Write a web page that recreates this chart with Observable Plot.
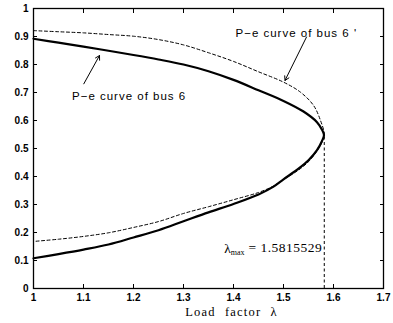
<!DOCTYPE html>
<html><head><meta charset="utf-8">
<script src="https://cdn.jsdelivr.net/npm/d3@7"></script>
<script src="https://cdn.jsdelivr.net/npm/@observablehq/plot@0.6"></script>
<style>body{margin:0;background:#fff}</style>
</head><body><div id="chart"></div>
<script>
const xTicks = [1, 1.1, 1.2, 1.3, 1.4, 1.5, 1.6, 1.7];
const yTicks = [0, 0.1, 0.2, 0.3, 0.4, 0.5, 0.6, 0.7, 0.8, 0.9, 1];

// P-e curve of bus 6 (solid): upper branch then lower branch
const solidX = [1.0, 1.05, 1.1, 1.15, 1.2, 1.25, 1.3, 1.35, 1.4, 1.45, 1.5, 1.54, 1.567, 1.577, 1.581,
                1.577, 1.567, 1.55, 1.53, 1.5, 1.48, 1.45, 1.4, 1.35, 1.3, 1.25, 1.2, 1.15, 1.1, 1.05, 1.0];
const solidY = [0.892, 0.878, 0.864, 0.849, 0.834, 0.818, 0.8, 0.776, 0.745, 0.708, 0.67, 0.632, 0.594, 0.567, 0.548,
                0.527, 0.494, 0.458, 0.428, 0.39, 0.364, 0.336, 0.302, 0.272, 0.24, 0.208, 0.182, 0.157, 0.139, 0.123, 0.108];

// P-e curve of bus 6' (dashed)
const dashX = [1.0, 1.05, 1.1, 1.15, 1.2, 1.25, 1.3, 1.35, 1.4, 1.45, 1.5, 1.534, 1.56, 1.574, 1.5815,
               1.577, 1.567, 1.55, 1.53, 1.5, 1.48, 1.45, 1.4, 1.35, 1.3, 1.25, 1.2, 1.15, 1.1, 1.05, 1.0];
const dashY = [0.921, 0.917, 0.913, 0.907, 0.901, 0.889, 0.87, 0.842, 0.811, 0.774, 0.737, 0.701, 0.654, 0.6, 0.55,
               0.523, 0.491, 0.453, 0.423, 0.389, 0.366, 0.343, 0.317, 0.292, 0.268, 0.239, 0.218, 0.199, 0.186, 0.176, 0.168];

const lambdaMax = 1.5815529;
const lambdaTop = 0.55;

const annoText = ["P\u2212e curve of bus 6", "P\u2212e curve of bus 6 '"];
const annoX = [1.077, 1.404];
const annoY = [0.686, 0.91];
const arrowX1 = [1.1006, 1.546];
const arrowY1 = [0.731, 0.898];
const arrowX2 = [1.132, 1.503];
const arrowY2 = [0.832, 0.743];

const lambdaLabel = ["\u03bbmax = 1.5815529"];
const xLabel = ["Load factor \u03bb"];

const solid = solidX.map((x, i) => ({x, y: solidY[i]}));
const dashed = dashX.map((x, i) => ({x, y: dashY[i]}));

const sans = "Liberation Sans, Arial, sans-serif";
const serif = "Liberation Serif, Times New Roman, serif";

const chart = Plot.plot({
  width: 393,
  height: 323,
  marginLeft: 33,
  marginRight: 10,
  marginTop: 8,
  marginBottom: 35,
  style: {fontFamily: sans, fontSize: "10px", background: "#fff", color: "#000"},
  x: {domain: [1, 1.7]},
  y: {domain: [0, 1]},
  marks: [
    // inward ticks on all four sides
    Plot.axisX(xTicks, {anchor: "bottom", tickSize: -4, tickFormat: () => "", label: null}),
    Plot.axisX(xTicks, {anchor: "top", tickSize: -4, tickFormat: () => "", label: null}),
    Plot.axisY(yTicks, {anchor: "left", tickSize: -4, tickFormat: () => "", label: null}),
    Plot.axisY(yTicks, {anchor: "right", tickSize: -4, tickFormat: () => "", label: null}),
    // tick labels
    Plot.axisX(xTicks, {anchor: "bottom", tickSize: 0, tickPadding: 5, tickFormat: d3.format("~g"), label: null, fontSize: 10, fontWeight: "bold"}),
    Plot.axisY(yTicks, {anchor: "left", tickSize: 0, tickPadding: 5, tickFormat: d3.format("~g"), label: null, fontSize: 10, fontWeight: "bold"}),
    Plot.line(dashed, {x: "x", y: "y", stroke: "black", strokeWidth: 1, strokeDasharray: "3,2.5", curve: "catmull-rom"}),
    Plot.line(solid, {x: "x", y: "y", stroke: "black", strokeWidth: 2.2, curve: "catmull-rom"}),
    Plot.ruleX([lambdaMax], {x: d => d, y1: 0, y2: lambdaTop, stroke: "black", strokeWidth: 1, strokeDasharray: "3,2.5"}),
    Plot.arrow(arrowX1, {x1: d => d, y1: (d, i) => arrowY1[i], x2: (d, i) => arrowX2[i], y2: (d, i) => arrowY2[i], stroke: "black", strokeWidth: 1, headLength: 7}),
    Plot.text(annoText, {x: (d, i) => annoX[i], y: (d, i) => annoY[i], text: d => d, textAnchor: "start", fontSize: 11.5, fontFamily: sans}),
    Plot.text(lambdaLabel, {x: lambdaMax, y: 0.143, text: d => d, textAnchor: "end", dx: -2, fontSize: 13.5, fontFamily: serif}),
    Plot.text(xLabel, {frameAnchor: "bottom", dy: 27, dx: 23, text: d => d, fontSize: 12.5, fontFamily: serif}),
    Plot.frame({stroke: "black", strokeWidth: 1.3})
  ]
});

// letter spacing for annotation texts, subscript for lambda max
d3.select(chart).selectAll("text").each(function() {
  const t = this.textContent;
  const sel = d3.select(this);
  if (annoText.includes(t)) sel.style("letter-spacing", "1px");
  if (t === xLabel[0]) sel.style("letter-spacing", "1.2px").style("word-spacing", "5px");
  if (t === lambdaLabel[0]) {
    sel.text(null);
    sel.append("tspan").text("\u03bb");
    sel.append("tspan").attr("font-size", 8).attr("dy", "0.3em").text("max");
    sel.append("tspan").attr("dy", "-0.2em").style("letter-spacing", "0.5px").text(" = 1.5815529");
  }
});

document.getElementById("chart").appendChild(chart);
</script>
</body></html>
